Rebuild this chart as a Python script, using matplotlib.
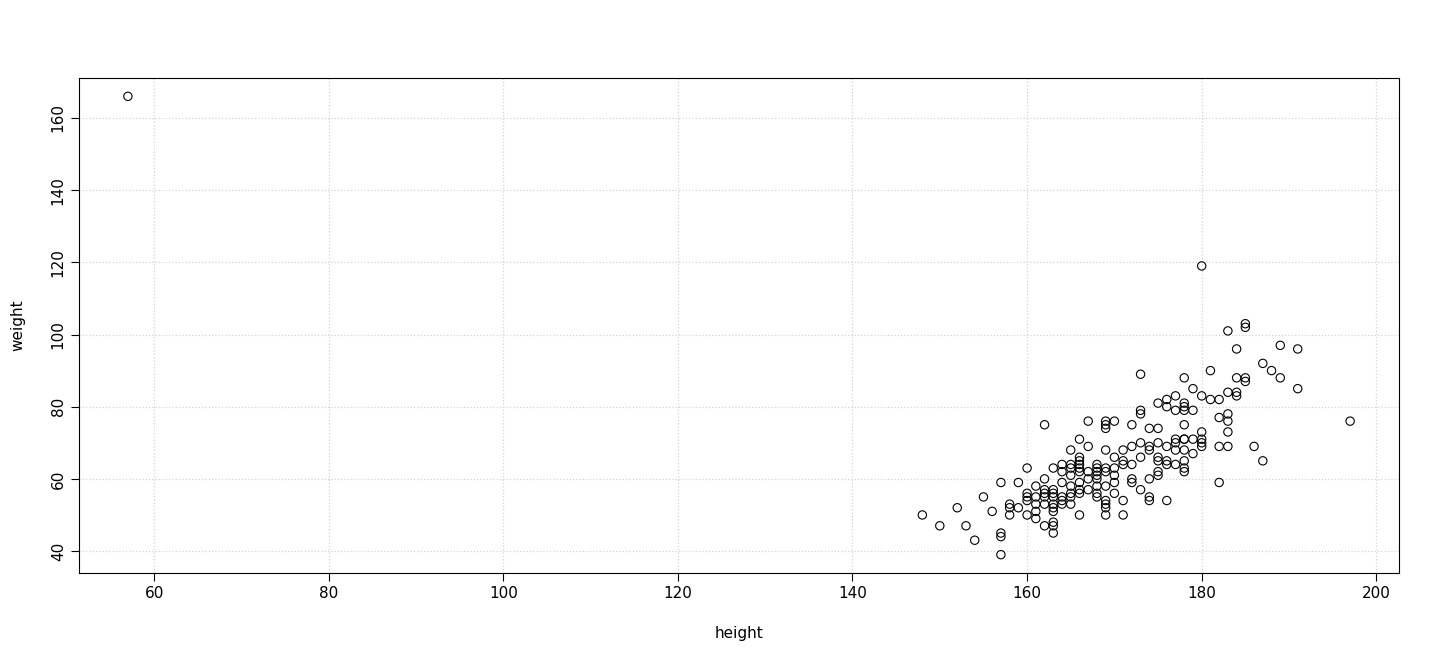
import matplotlib
matplotlib.use("Agg")
import matplotlib.pyplot as plt

height = [57,180,185,185,183,189,184,191,187,188,181,173,179,191,178,184,185,185,189,180,181,182,177,176,184,184,183,176,175,178,178,178,179,173,173,177,183,183,182,178,172,162,167,169,169,169,170,174,183,180,180,177,178,180,183,186,182,187,197,182,176,174,174,171,171,169,169,169,169,170,166,163,163,163,162,161,157,157,157,154,153,150,148,152,155,156,158,158,158,159,159,157,160,160,160,160,160,161,161,161,161,162,162,162,162,162,163,163,163,163,163,163,163,164,164,164,164,164,164,165,165,165,165,165,165,165,165,166,166,166,166,166,166,166,166,166,167,167,167,167,168,168,168,168,168,168,168,168,169,169,169,169,170,170,170,170,171,171,171,172,172,172,172,173,173,173,174,174,174,175,175,175,175,175,175,176,176,176,177,177,177,178,178,178,178,178,179,179,180]
weight = [166,119,103,102,101,97,96,96,92,90,90,89,85,85,88,88,88,87,88,83,82,82,83,82,84,83,84,80,81,81,80,79,79,79,78,79,78,76,77,75,75,75,76,76,75,74,76,74,73,73,71,71,71,69,69,69,69,65,76,59,54,54,55,54,50,50,52,53,54,56,50,45,47,48,47,49,39,44,45,43,47,47,50,52,55,51,50,52,53,52,59,59,63,50,54,55,56,51,53,55,58,53,55,56,57,60,51,52,53,55,56,57,63,53,54,55,59,62,64,53,55,56,58,61,63,64,68,56,57,59,62,63,64,65,66,71,57,60,62,69,55,56,58,60,61,62,63,64,58,62,63,68,59,61,63,66,64,65,68,59,60,64,69,57,66,70,60,68,69,61,62,65,66,70,74,64,65,69,64,68,70,62,63,65,68,71,67,71,70]

fig = plt.figure(figsize=(14.4, 6.72), dpi=100)
ax = fig.add_axes([79/1440, 1-573/672, (1399-79)/1440, (573-78)/672])
ax.scatter(height, weight, s=36, facecolors='none', edgecolors='black', linewidths=0.8, zorder=3)
ax.set_xlim(51.4, 202.6)
ax.set_ylim(33.92, 171.08)
ax.set_xticks([60,80,100,120,140,160,180,200])
ax.set_yticks([40,60,80,100,120,140,160])
ax.tick_params(axis='y', labelrotation=90)
for t in ax.get_yticklabels():
    t.set_va('center')
ax.grid(True, color='lightgray', linestyle=':', linewidth=0.9)
ax.set_xlabel('height', fontsize=11, labelpad=18)
ax.set_ylabel('weight', fontsize=11, labelpad=18)
ax.tick_params(labelsize=11, length=6)
for s in ax.spines.values():
    s.set_linewidth(0.8)
fig.savefig('out.png')
